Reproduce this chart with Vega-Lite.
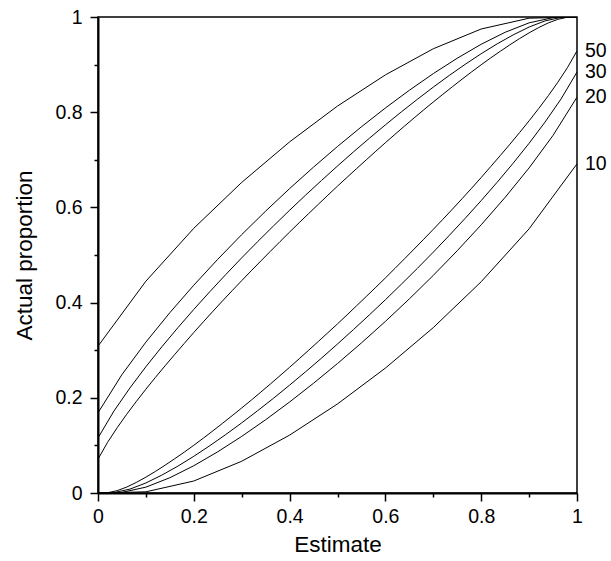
{
  "$schema": "https://vega.github.io/schema/vega-lite/v6.json",
  "autosize": {"type": "none"},
  "padding": {"left": 98, "top": 17, "right": 34, "bottom": 68},
  "width": 479,
  "height": 476,
  "background": "white",
  "config": {
    "view": {"stroke": "black", "strokeWidth": 1.5},
    "font": "Liberation Sans",
    "axis": {
      "labelFont": "Liberation Sans",
      "titleFont": "Liberation Sans",
      "labelColor": "black",
      "titleColor": "black",
      "tickColor": "black",
      "domainColor": "black",
      "domainWidth": 2,
      "tickWidth": 1.5,
      "grid": false,
      "labelFontSize": 19.5,
      "titleFontSize": 22.5,
      "titleFontWeight": "normal",
      "labelFlush": false,
      "labelOverlap": false,
      "labelPadding": 6
    }
  },
  "layer": [
    {
      "data": {
        "values": [
          {"n": 10, "x": 0, "upper": 0.3085, "lower": 0},
          {"n": 10, "x": 0.1, "upper": 0.445, "lower": 0.0025},
          {"n": 10, "x": 0.2, "upper": 0.5561, "lower": 0.0252},
          {"n": 10, "x": 0.3, "upper": 0.6525, "lower": 0.0667},
          {"n": 10, "x": 0.4, "upper": 0.7376, "lower": 0.1216},
          {"n": 10, "x": 0.5, "upper": 0.8129, "lower": 0.1871},
          {"n": 10, "x": 0.6, "upper": 0.8784, "lower": 0.2624},
          {"n": 10, "x": 0.7, "upper": 0.9333, "lower": 0.3475},
          {"n": 10, "x": 0.8, "upper": 0.9748, "lower": 0.4439},
          {"n": 10, "x": 0.9, "upper": 0.9975, "lower": 0.555},
          {"n": 10, "x": 1, "upper": 1, "lower": 0.6915},
          {"n": 20, "x": 0, "upper": 0.1684, "lower": 0},
          {"n": 20, "x": 0.05, "upper": 0.2487, "lower": 0.0013},
          {"n": 20, "x": 0.1, "upper": 0.317, "lower": 0.0123},
          {"n": 20, "x": 0.15, "upper": 0.3789, "lower": 0.0321},
          {"n": 20, "x": 0.2, "upper": 0.4366, "lower": 0.0573},
          {"n": 20, "x": 0.25, "upper": 0.491, "lower": 0.0866},
          {"n": 20, "x": 0.3, "upper": 0.5428, "lower": 0.1189},
          {"n": 20, "x": 0.35, "upper": 0.5922, "lower": 0.1539},
          {"n": 20, "x": 0.4, "upper": 0.6395, "lower": 0.1912},
          {"n": 20, "x": 0.45, "upper": 0.6847, "lower": 0.2306},
          {"n": 20, "x": 0.5, "upper": 0.728, "lower": 0.272},
          {"n": 20, "x": 0.55, "upper": 0.7694, "lower": 0.3153},
          {"n": 20, "x": 0.6, "upper": 0.8088, "lower": 0.3605},
          {"n": 20, "x": 0.65, "upper": 0.8461, "lower": 0.4078},
          {"n": 20, "x": 0.7, "upper": 0.8811, "lower": 0.4572},
          {"n": 20, "x": 0.75, "upper": 0.9134, "lower": 0.509},
          {"n": 20, "x": 0.8, "upper": 0.9427, "lower": 0.5634},
          {"n": 20, "x": 0.85, "upper": 0.9679, "lower": 0.6211},
          {"n": 20, "x": 0.9, "upper": 0.9877, "lower": 0.683},
          {"n": 20, "x": 0.95, "upper": 0.9987, "lower": 0.7513},
          {"n": 20, "x": 1, "upper": 1, "lower": 0.8316},
          {"n": 30, "x": 0, "upper": 0.1157, "lower": 0},
          {"n": 30, "x": 0.0333, "upper": 0.1722, "lower": 0.0008},
          {"n": 30, "x": 0.0667, "upper": 0.2207, "lower": 0.0082},
          {"n": 30, "x": 0.1, "upper": 0.2653, "lower": 0.0211},
          {"n": 30, "x": 0.1333, "upper": 0.3072, "lower": 0.0376},
          {"n": 30, "x": 0.1667, "upper": 0.3472, "lower": 0.0564},
          {"n": 30, "x": 0.2, "upper": 0.3857, "lower": 0.0771},
          {"n": 30, "x": 0.2333, "upper": 0.4228, "lower": 0.0993},
          {"n": 30, "x": 0.2667, "upper": 0.4589, "lower": 0.1228},
          {"n": 30, "x": 0.3, "upper": 0.494, "lower": 0.1473},
          {"n": 30, "x": 0.3333, "upper": 0.5281, "lower": 0.1729},
          {"n": 30, "x": 0.3667, "upper": 0.5614, "lower": 0.1993},
          {"n": 30, "x": 0.4, "upper": 0.594, "lower": 0.2266},
          {"n": 30, "x": 0.4333, "upper": 0.6257, "lower": 0.2546},
          {"n": 30, "x": 0.4667, "upper": 0.6567, "lower": 0.2834},
          {"n": 30, "x": 0.5, "upper": 0.687, "lower": 0.313},
          {"n": 30, "x": 0.5333, "upper": 0.7166, "lower": 0.3433},
          {"n": 30, "x": 0.5667, "upper": 0.7454, "lower": 0.3743},
          {"n": 30, "x": 0.6, "upper": 0.7734, "lower": 0.406},
          {"n": 30, "x": 0.6333, "upper": 0.8007, "lower": 0.4386},
          {"n": 30, "x": 0.6667, "upper": 0.8271, "lower": 0.4719},
          {"n": 30, "x": 0.7, "upper": 0.8527, "lower": 0.506},
          {"n": 30, "x": 0.7333, "upper": 0.8772, "lower": 0.5411},
          {"n": 30, "x": 0.7667, "upper": 0.9007, "lower": 0.5772},
          {"n": 30, "x": 0.8, "upper": 0.9229, "lower": 0.6143},
          {"n": 30, "x": 0.8333, "upper": 0.9436, "lower": 0.6528},
          {"n": 30, "x": 0.8667, "upper": 0.9624, "lower": 0.6928},
          {"n": 30, "x": 0.9, "upper": 0.9789, "lower": 0.7347},
          {"n": 30, "x": 0.9333, "upper": 0.9918, "lower": 0.7793},
          {"n": 30, "x": 0.9667, "upper": 0.9992, "lower": 0.8278},
          {"n": 30, "x": 1, "upper": 1, "lower": 0.8843},
          {"n": 50, "x": 0, "upper": 0.0711, "lower": 0},
          {"n": 50, "x": 0.02, "upper": 0.1065, "lower": 0.0005},
          {"n": 50, "x": 0.04, "upper": 0.1371, "lower": 0.0049},
          {"n": 50, "x": 0.06, "upper": 0.1655, "lower": 0.0125},
          {"n": 50, "x": 0.08, "upper": 0.1923, "lower": 0.0222},
          {"n": 50, "x": 0.1, "upper": 0.2181, "lower": 0.0333},
          {"n": 50, "x": 0.12, "upper": 0.243, "lower": 0.0454},
          {"n": 50, "x": 0.14, "upper": 0.2672, "lower": 0.0583},
          {"n": 50, "x": 0.16, "upper": 0.2908, "lower": 0.0719},
          {"n": 50, "x": 0.18, "upper": 0.3141, "lower": 0.0858},
          {"n": 50, "x": 0.2, "upper": 0.3372, "lower": 0.1003},
          {"n": 50, "x": 0.22, "upper": 0.3597, "lower": 0.1153},
          {"n": 50, "x": 0.24, "upper": 0.3818, "lower": 0.1307},
          {"n": 50, "x": 0.26, "upper": 0.4036, "lower": 0.1464},
          {"n": 50, "x": 0.28, "upper": 0.425, "lower": 0.1624},
          {"n": 50, "x": 0.3, "upper": 0.4461, "lower": 0.1786},
          {"n": 50, "x": 0.32, "upper": 0.4669, "lower": 0.1951},
          {"n": 50, "x": 0.34, "upper": 0.4875, "lower": 0.212},
          {"n": 50, "x": 0.36, "upper": 0.5079, "lower": 0.2291},
          {"n": 50, "x": 0.38, "upper": 0.5281, "lower": 0.2465},
          {"n": 50, "x": 0.4, "upper": 0.5482, "lower": 0.2641},
          {"n": 50, "x": 0.42, "upper": 0.5678, "lower": 0.282},
          {"n": 50, "x": 0.44, "upper": 0.5872, "lower": 0.3001},
          {"n": 50, "x": 0.46, "upper": 0.6065, "lower": 0.3184},
          {"n": 50, "x": 0.48, "upper": 0.6257, "lower": 0.3368},
          {"n": 50, "x": 0.5, "upper": 0.6447, "lower": 0.3553},
          {"n": 50, "x": 0.52, "upper": 0.6632, "lower": 0.3743},
          {"n": 50, "x": 0.54, "upper": 0.6816, "lower": 0.3935},
          {"n": 50, "x": 0.56, "upper": 0.6999, "lower": 0.4128},
          {"n": 50, "x": 0.58, "upper": 0.718, "lower": 0.4322},
          {"n": 50, "x": 0.6, "upper": 0.7359, "lower": 0.4518},
          {"n": 50, "x": 0.62, "upper": 0.7535, "lower": 0.4719},
          {"n": 50, "x": 0.64, "upper": 0.7709, "lower": 0.4921},
          {"n": 50, "x": 0.66, "upper": 0.788, "lower": 0.5125},
          {"n": 50, "x": 0.68, "upper": 0.8049, "lower": 0.5331},
          {"n": 50, "x": 0.7, "upper": 0.8214, "lower": 0.5539},
          {"n": 50, "x": 0.72, "upper": 0.8376, "lower": 0.575},
          {"n": 50, "x": 0.74, "upper": 0.8536, "lower": 0.5964},
          {"n": 50, "x": 0.76, "upper": 0.8693, "lower": 0.6182},
          {"n": 50, "x": 0.78, "upper": 0.8847, "lower": 0.6403},
          {"n": 50, "x": 0.8, "upper": 0.8997, "lower": 0.6628},
          {"n": 50, "x": 0.82, "upper": 0.9142, "lower": 0.6859},
          {"n": 50, "x": 0.84, "upper": 0.9281, "lower": 0.7092},
          {"n": 50, "x": 0.86, "upper": 0.9417, "lower": 0.7328},
          {"n": 50, "x": 0.88, "upper": 0.9546, "lower": 0.757},
          {"n": 50, "x": 0.9, "upper": 0.9667, "lower": 0.7819},
          {"n": 50, "x": 0.92, "upper": 0.9778, "lower": 0.8077},
          {"n": 50, "x": 0.94, "upper": 0.9875, "lower": 0.8345},
          {"n": 50, "x": 0.96, "upper": 0.9951, "lower": 0.8629},
          {"n": 50, "x": 0.98, "upper": 0.9995, "lower": 0.8935},
          {"n": 50, "x": 1, "upper": 1, "lower": 0.9289}
        ]
      },
      "transform": [{"fold": ["upper", "lower"], "as": ["side", "y"]}],
      "mark": {"type": "line", "color": "black", "strokeWidth": 1, "clip": true},
      "encoding": {
        "x": {
          "field": "x", "type": "quantitative",
          "scale": {"domain": [0, 1], "nice": false},
          "axis": {
            "title": "Estimate",
            "values": [0, 0.05, 0.1, 0.15, 0.2, 0.25, 0.3, 0.35, 0.4, 0.45, 0.5, 0.55, 0.6, 0.65, 0.7, 0.75, 0.8, 0.85, 0.9, 0.95, 1],
            "labelExpr": "abs(datum.value*5 - round(datum.value*5)) < 0.001 ? format(datum.value, '~g') : ''",
            "tickSize": {"condition": {"test": "abs(datum.value*5 - round(datum.value*5)) < 0.001", "value": 8}, "value": 4},
            "titlePadding": 8
          }
        },
        "y": {
          "field": "y", "type": "quantitative",
          "scale": {"domain": [0, 1], "nice": false},
          "axis": {
            "title": "Actual proportion",
            "values": [0, 0.05, 0.1, 0.15, 0.2, 0.25, 0.3, 0.35, 0.4, 0.45, 0.5, 0.55, 0.6, 0.65, 0.7, 0.75, 0.8, 0.85, 0.9, 0.95, 1],
            "labelExpr": "abs(datum.value*5 - round(datum.value*5)) < 0.001 ? format(datum.value, '~g') : ''",
            "tickSize": {"condition": {"test": "abs(datum.value*5 - round(datum.value*5)) < 0.001", "value": 8}, "value": 4},
            "labelPadding": 8,
            "titlePadding": 18
          }
        },
        "detail": [{"field": "n"}, {"field": "side"}],
        "order": {"field": "x", "type": "quantitative"}
      }
    },
    {
      "data": {
        "values": [
          {"label": "50", "x": 1, "y": 0.9289},
          {"label": "30", "x": 1, "y": 0.8843},
          {"label": "20", "x": 1, "y": 0.8316},
          {"label": "10", "x": 1, "y": 0.6915}
        ]
      },
      "mark": {"type": "text", "align": "left", "baseline": "middle", "dx": 8, "dy": 0, "fontSize": 19.5, "font": "Liberation Sans", "color": "black"},
      "encoding": {
        "x": {"field": "x", "type": "quantitative"},
        "y": {"field": "y", "type": "quantitative"},
        "text": {"field": "label"}
      }
    }
  ]
}
